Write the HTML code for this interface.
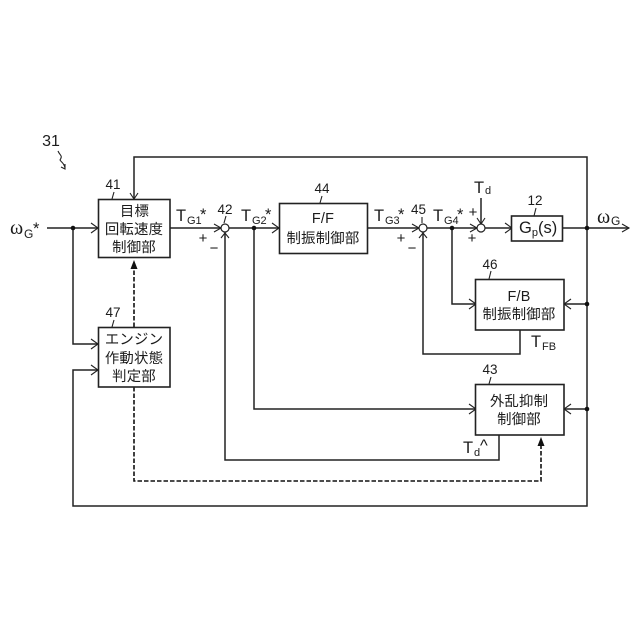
<!DOCTYPE html>
<html>
<head>
<meta charset="utf-8">
<style>
html,body{margin:0;padding:0;background:#fff}
svg{display:block}
text{font-family:"Liberation Sans","Noto Sans CJK JP",sans-serif;fill:#1c1c1c}
.j{font-size:14.4px;text-anchor:middle;letter-spacing:0.2px}
.n{font-size:13.5px;text-anchor:middle}
.t{font-size:16.5px}
.s{font-size:11px}
.g{font-size:12px}
.p{font-size:15px;text-anchor:middle}
.o{font-family:"Liberation Serif",serif;font-size:20px}
.l{fill:none;stroke:#222;stroke-width:1.5}
.b{fill:#fff;stroke:#222;stroke-width:1.6}
.a{fill:none;stroke:#222;stroke-width:1.1}
.d{fill:none;stroke:#111;stroke-width:1.6;stroke-dasharray:4.5 2}
.h{fill:#111}
</style>
</head>
<body>
<svg width="640" height="640" viewBox="0 0 640 640" xmlns="http://www.w3.org/2000/svg">
<rect width="640" height="640" fill="#fff"/>
<!-- connectors -->
<path class="l" d="M47 228H98"/>
<path class="l" d="M73 228V344H98"/>
<path class="l" d="M170 228H221"/>
<path class="l" d="M229 228H279"/>
<path class="l" d="M368 228H419"/>
<path class="l" d="M427 228H477"/>
<path class="l" d="M485 228H512"/>
<path class="l" d="M562 228H629"/>
<path class="l" d="M587 228V157H134V199"/>
<path class="l" d="M587 228V506H73V370H98"/>
<path class="l" d="M587 304H564"/>
<path class="l" d="M587 409H564"/>
<path class="l" d="M481 198V224"/>
<path class="l" d="M254 228V409H476"/>
<path class="l" d="M452 228V304H476"/>
<path class="l" d="M520 330V354H423V232"/>
<path class="l" d="M499 435V460H225V232"/>
<path class="d" d="M134 327V262"/>
<path class="d" d="M134 387V481H541V440"/>
<!-- arrowheads -->
<path class="a" d="M91 223L98 228L91 233M91 339L98 344L91 349M91 365L98 370L91 375"/>
<path class="a" d="M214 224L221 228L214 232M272 223L279 228L272 233M412 224L419 228L412 232M470 224L477 228L470 232M505 223L512 228L505 233M622 224L629 228L622 232"/>
<path class="a" d="M130 193L134 199L138 193M221 238L225 233L229 238M419 238L423 233L427 238M477 218L481 224L485 218"/>
<path class="a" d="M469 299L476 304L469 309M469 404L476 409L469 414M571 299L564 304L571 309M571 404L564 409L571 414"/>
<path class="h" d="M134 260L130.5 269H137.5ZM541 437L537.5 446H544.5Z"/>
<!-- sum circles -->
<circle cx="225" cy="228" r="4" fill="#fff" stroke="#222" stroke-width="1.2"/>
<circle cx="423" cy="228" r="4" fill="#fff" stroke="#222" stroke-width="1.2"/>
<circle cx="481" cy="228" r="4" fill="#fff" stroke="#222" stroke-width="1.2"/>
<!-- dots -->
<g class="h">
<circle cx="73" cy="228" r="2.3"/>
<circle cx="254" cy="228" r="2.3"/>
<circle cx="452" cy="228" r="2.3"/>
<circle cx="587" cy="228" r="2.3"/>
<circle cx="587" cy="304" r="2.3"/>
<circle cx="587" cy="409" r="2.3"/>
</g>
<!-- boxes -->
<rect class="b" x="98.5" y="199.5" width="71.5" height="58"/>
<rect class="b" x="279.5" y="203.5" width="88" height="50"/>
<rect class="b" x="511.5" y="216" width="51" height="25"/>
<rect class="b" x="475.5" y="279.5" width="88.5" height="50.5"/>
<rect class="b" x="98.5" y="327.5" width="71.5" height="59.5"/>
<rect class="b" x="475.5" y="384.5" width="88.5" height="50.5"/>
<!-- box text -->
<text class="j" x="134.5" y="216">目標</text>
<text class="j" x="134" y="234">回転速度</text>
<text class="j" x="134" y="252">制御部</text>
<text class="j" x="323" y="223">F/F</text>
<text class="j" x="323" y="243">制振制御部</text>
<text class="t" x="519" y="233">G<tspan class="s" font-size="10" dy="3">p</tspan><tspan dy="-3">(s)</tspan></text>
<text class="j" x="519" y="301">F/B</text>
<text class="j" x="519" y="319">制振制御部</text>
<text class="j" x="134" y="344">エンジン</text>
<text class="j" x="134" y="363">作動状態</text>
<text class="j" x="134" y="381">判定部</text>
<text class="j" x="519" y="406">外乱抑制</text>
<text class="j" x="519" y="424">制御部</text>
<!-- reference numbers -->
<text class="n" style="font-size:16px" x="51" y="146">31</text>
<path class="a" d="M58 151C60 156 63 155 60 160C62 163 64 163 65 168M61 167L65 169L65 164"/>
<text class="n" x="113" y="189">41</text><path class="a" d="M114 192L112 199"/>
<text class="n" x="225" y="214">42</text><path class="a" d="M226 216L224 223"/>
<text class="n" x="322" y="193">44</text><path class="a" d="M322 196L320 203"/>
<text class="n" x="418.5" y="214">45</text><path class="a" d="M422 217L422 223"/>
<text class="n" x="535" y="205">12</text><path class="a" d="M536 208L534 216"/>
<text class="n" x="490" y="269">46</text><path class="a" d="M491 271L489 279"/>
<text class="n" x="113" y="317">47</text><path class="a" d="M114 320L112 327"/>
<text class="n" x="490" y="374">43</text><path class="a" d="M491 377L489 384"/>
<!-- signal labels -->
<text class="o" x="10" y="234">ω</text><text class="g" x="24" y="238">G</text><text class="t" x="33" y="234">*</text>
<text class="t" x="176" y="221">T</text><text class="s" x="187" y="224">G1</text><text class="t" x="200" y="220">*</text>
<text class="t" x="241" y="221">T</text><text class="s" x="252" y="224">G2</text><text class="t" x="265" y="220">*</text>
<text class="t" x="374" y="221">T</text><text class="s" x="385" y="224">G3</text><text class="t" x="398" y="220">*</text>
<text class="t" x="433" y="221">T</text><text class="s" x="444" y="224">G4</text><text class="t" x="457" y="220">*</text>
<text class="t" x="474" y="193">T</text><text class="s" x="485" y="194">d</text>
<text class="o" x="597" y="223">ω</text><text class="g" x="611" y="225">G</text>
<text class="t" x="531" y="347">T</text><text class="s" x="542" y="350">FB</text>
<text class="t" x="463" y="453">T</text><text class="s" x="474" y="456">d</text><text class="t" x="480" y="451">^</text>
<text class="p" x="203" y="243">+</text>
<text class="p" x="214" y="253">−</text>
<text class="p" x="401" y="243">+</text>
<text class="p" x="412" y="253">−</text>
<text class="p" x="473" y="217">+</text>
<text class="p" x="472" y="243">+</text>
</svg>
</body>
</html>
